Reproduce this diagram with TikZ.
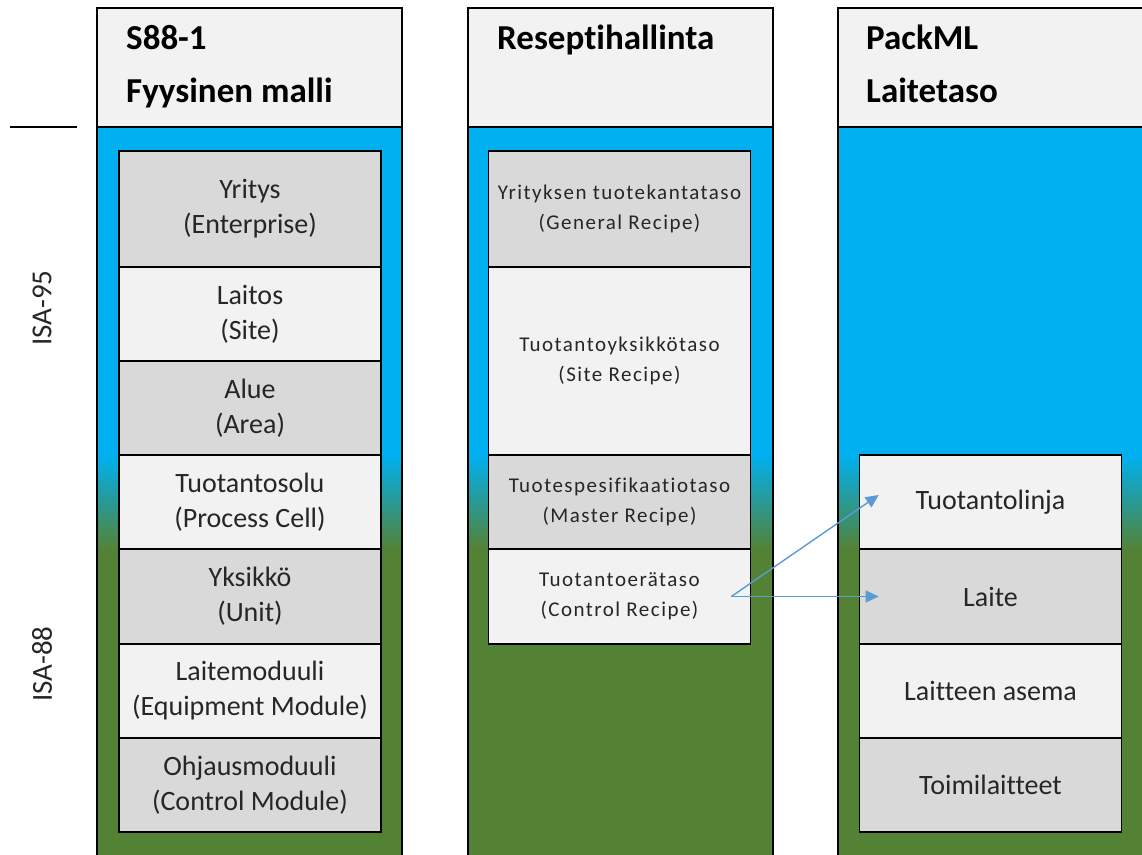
\documentclass[tikz,border=0pt]{standalone}
\usepackage{fontspec}
\setmainfont{Carlito}[Ligatures={NoCommon}]
\newfontfamily\spacedfont[LetterSpace=7,Ligatures={NoCommon}]{Carlito}
\usetikzlibrary{arrows.meta}
\definecolor{skyb}{HTML}{00B0F0}
\definecolor{grn}{HTML}{548235}
\definecolor{dk}{HTML}{D9D9D9}
\definecolor{lt}{HTML}{F2F2F2}
\definecolor{arr}{HTML}{5B9BD5}
\tikzset{
  cell/.style={draw=black, line width=1.6, rectangle, minimum width=262, inner sep=0,
    align=center, font=\fontsize{28}{35}\selectfont, text=black!85},
  rcell/.style={cell, font=\spacedfont\fontsize{21}{30}\selectfont},
  hdr/.style={anchor=base west, inner sep=0, font=\bfseries\fontsize{35}{40}\selectfont},
  colframe/.style={draw=black, line width=1.8},
  isa/.style={rotate=90, font=\fontsize{29}{30}\selectfont, inner sep=0, text=black!85},
  link/.style={draw=arr, line width=1.4, -{Triangle[length=13,width=12]}}
}
\begin{document}
\begin{tikzpicture}[x=1pt,y=-1pt]
\useasboundingbox (0,0) rectangle (1142,854);
% columns
\foreach \xa/\xb in {97/402, 468/773, 838/1150} {
  \fill[lt] (\xa,8) rectangle (\xb,127);
  \fill[skyb] (\xa,127) rectangle (\xb,455);
  \shade[top color=skyb, bottom color=grn] (\xa,455) rectangle (\xb,550);
  \fill[grn] (\xa,550) rectangle (\xb,870);
  \draw[colframe] (\xa,870) -- (\xa,8) -- (\xb,8) -- (\xb,870);
  \draw[colframe] (\xa,127) -- (\xb,127);
}
% headers
\node[hdr] (h1a) at (126,49) {S88-1};
\node[hdr] (h1b) at (126,102) {Fyysinen malli};
\node[hdr] (h2a) at (497,49) {Reseptihallinta};
\node[hdr] (h3a) at (866,49) {PackML};
\node[hdr] (h3b) at (866,102) {Laitetaso};
% left marks
\draw[line width=1.5] (10,127) -- (77,127);
\node[isa] (isa95) at (42,308) {ISA-95};
\node[isa] (isa88) at (42,664) {ISA-88};
% column 1
\node[cell, fill=dk, minimum height=116] (c1a) at (250,209) {Yritys\\(Enterprise)};
\node[cell, fill=lt, minimum height=94] (c1b) at (250,314) {Laitos\\(Site)};
\node[cell, fill=dk, minimum height=94] (c1c) at (250,408) {Alue\\(Area)};
\node[cell, fill=lt, minimum height=94] (c1d) at (250,502) {Tuotantosolu\\(Process Cell)};
\node[cell, fill=dk, minimum height=95] (c1e) at (250,596.5) {Yksikkö\\(Unit)};
\node[cell, fill=lt, minimum height=94] (c1f) at (250,691) {Laitemoduuli\\(Equipment Module)};
\node[cell, fill=dk, minimum height=94] (c1g) at (250,785) {Ohjausmoduuli\\(Control Module)};
% column 2
\node[rcell, fill=dk, minimum height=116] (c2a) at (619.5,209) {Yrityksen tuotekantataso\\(General Recipe)};
\node[rcell, fill=lt, minimum height=188] (c2b) at (619.5,361) {Tuotantoyksikkötaso\\(Site Recipe)};
\node[rcell, fill=dk, minimum height=94] (c2c) at (619.5,502) {Tuotespesifikaatiotaso\\(Master Recipe)};
\node[rcell, fill=lt, minimum height=95] (c2d) at (619.5,596.5) {Tuotantoerätaso\\(Control Recipe)};
% column 3
\node[cell, fill=lt, minimum height=94] (c3a) at (990.5,502) {Tuotantolinja};
\node[cell, fill=dk, minimum height=95] (c3b) at (990.5,596.5) {Laite};
\node[cell, fill=lt, minimum height=94] (c3c) at (990.5,691) {Laitteen asema};
\node[cell, fill=dk, minimum height=94] (c3d) at (990.5,785) {Toimilaitteet};
% arrows
\coordinate (src) at ([xshift=-20]c2d.east);
\coordinate (t1) at ([xshift=20,yshift=7]c3a.west);
\coordinate (t2) at ([xshift=20]c3b.west);
\draw[link] (src) -- (t1);
\draw[link] (src) -- (t2);
\end{tikzpicture}
\end{document}
